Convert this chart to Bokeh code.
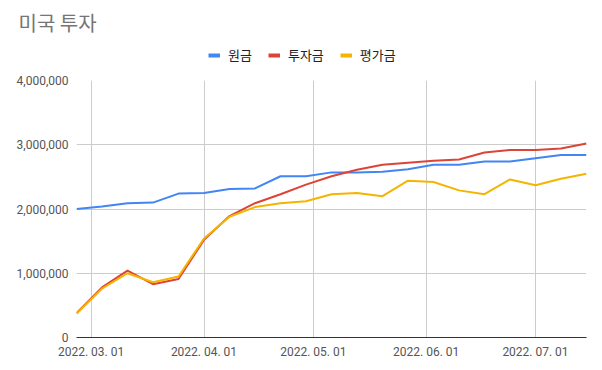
from datetime import datetime
from bokeh.plotting import figure
from bokeh.layouts import column
from bokeh.models import (Range1d, FixedTicker, DatetimeTickFormatter, NumeralTickFormatter,
                          Legend, LegendItem)
from bokeh.embed import file_html
from bokeh.resources import INLINE

title = "미국 투자"
series_names = ["원금", "투자금", "평가금"]
dates = ["2022-02-25", "2022-03-04", "2022-03-11", "2022-03-18", "2022-03-25",
         "2022-04-01", "2022-04-08", "2022-04-15", "2022-04-22", "2022-04-29",
         "2022-05-06", "2022-05-13", "2022-05-20", "2022-05-27", "2022-06-03",
         "2022-06-10", "2022-06-17", "2022-06-24", "2022-07-01", "2022-07-08",
         "2022-07-15"]
principal = [2000000, 2040000, 2090000, 2100000, 2240000, 2250000, 2310000, 2320000,
             2510000, 2510000, 2570000, 2570000, 2580000, 2620000, 2690000, 2690000,
             2740000, 2740000, 2790000, 2840000, 2840000]
invested = [380000, 780000, 1040000, 830000, 910000, 1520000, 1890000, 2090000,
            2230000, 2380000, 2510000, 2610000, 2690000, 2720000, 2750000, 2770000,
            2880000, 2920000, 2920000, 2940000, 3020000]
valuation = [370000, 760000, 1000000, 860000, 950000, 1540000, 1880000, 2030000,
             2090000, 2120000, 2230000, 2250000, 2200000, 2440000, 2420000, 2290000,
             2230000, 2460000, 2370000, 2470000, 2550000]
x_ticks = ["2022-03-01", "2022-04-01", "2022-05-01", "2022-06-01", "2022-07-01"]
y_ticks = [0, 1000000, 2000000, 3000000, 4000000]

colors = ["#4285f4", "#db4437", "#f4b400"]

xd = [datetime.strptime(d, "%Y-%m-%d") for d in dates]
tick_ms = [(datetime.strptime(d, "%Y-%m-%d") - datetime(1970, 1, 1)).total_seconds() * 1000
           for d in x_ticks]

# ---- header: title + legend ----
h = figure(width=594, height=72, output_backend="svg", toolbar_location=None,
           x_range=Range1d(0, 1), y_range=Range1d(0, 1),
           min_border_left=76, min_border_right=8, min_border_top=0, min_border_bottom=0)
h.axis.visible = False
h.grid.visible = False
h.outline_line_color = None
h.title.text = title
h.title.align = "left"
h.title.offset = -58
h.title.standoff = 10
h.title.text_font = "Noto Sans CJK KR"
h.title.text_font_size = "20px"
h.title.text_font_style = "normal"
h.title.text_color = "#757575"

nan = float("nan")
header_renderers = [h.line([nan], [nan], line_color=c, line_width=4) for c in colors]
legend = Legend(items=[LegendItem(label=n, renderers=[r])
                       for n, r in zip(series_names, header_renderers)],
                orientation="horizontal", location=(132, 8),
                glyph_width=12, glyph_height=12, label_standoff=8, spacing=16,
                padding=0, margin=0, border_line_color=None, background_fill_alpha=0,
                label_text_font="Noto Sans CJK KR", label_text_font_size="13px",
                label_text_color="#222222")
h.add_layout(legend, "center")

# ---- main chart ----
p = figure(width=594, height=290, x_axis_type="datetime", output_backend="svg",
           toolbar_location=None, x_range=Range1d(xd[0], xd[-1]),
           y_range=Range1d(y_ticks[0], y_ticks[-1]),
           min_border_left=76, min_border_right=8, min_border_top=8, min_border_bottom=25)
p.outline_line_color = None
p.title = None

for vals, c in zip([principal, invested, valuation], colors):
    p.line(xd, vals, line_color=c, line_width=2)

p.xaxis.ticker = FixedTicker(ticks=tick_ms)
p.xaxis.formatter = DatetimeTickFormatter(days="%Y. %m. %d", months="%Y. %m. %d",
                                          years="%Y. %m. %d")
p.yaxis.ticker = FixedTicker(ticks=y_ticks)
p.yaxis.formatter = NumeralTickFormatter(format="0,0")

for ax in [p.xaxis[0], p.yaxis[0]]:
    ax.major_tick_line_color = None
    ax.minor_tick_line_color = None
    ax.major_label_text_font = "Roboto"
    ax.major_label_text_font_size = "12px"
    ax.major_label_text_color = "#555555"
p.yaxis.axis_line_color = None
p.yaxis.major_label_standoff = 2
p.xaxis.axis_line_color = "#333333"
p.xaxis.axis_line_width = 1
p.xaxis.major_label_standoff = 1

p.xgrid.ticker = FixedTicker(ticks=tick_ms)
p.ygrid.ticker = FixedTicker(ticks=y_ticks)
p.xgrid.grid_line_color = "#cccccc"
p.ygrid.grid_line_color = "#cccccc"

layout = column(h, p, spacing=0)
open("out.html", "w").write(file_html(layout, INLINE))
